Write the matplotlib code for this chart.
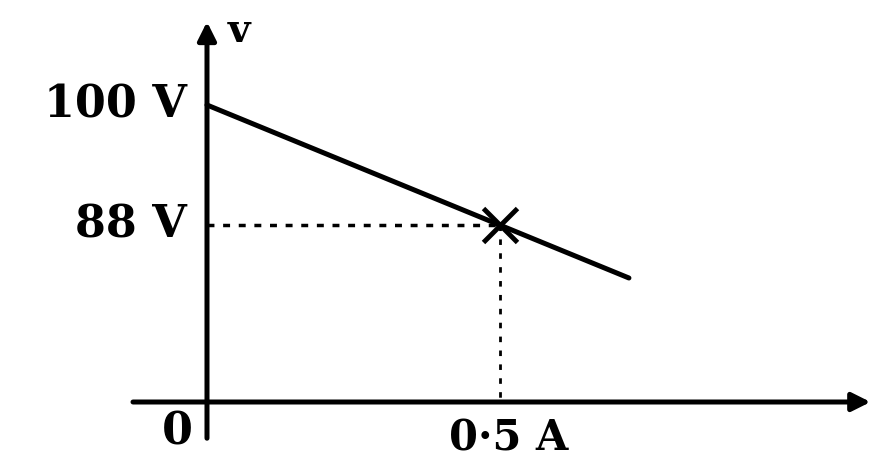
import matplotlib.pyplot as plt

# V-I characteristic (schematic)
current = [0.0, 0.72]          # A
voltage = [100.0, 82.7]        # V
point_i = 0.5
point_v = 88.0

y_ticks = [100.0, 88.0]
y_labels = ["100 V", "88 V"]
x_label_pt = "0·5 A"

fig = plt.figure(figsize=(8.77, 4.67), dpi=100)
ax = fig.add_axes([0, 0, 1, 1])
ax.set_xlim(-0.3532, 1.1433)
ax.set_ylim(63.8, 110.5)
ax.axis("off")

base_v = 70.3  # where the horizontal axis sits
font = dict(family="DejaVu Serif", weight="bold", color="black")

# axes with arrows
arrow = dict(arrowstyle="-|>,head_length=1.1,head_width=0.55", lw=3.6, color="black")
ax.annotate("", xy=(1.137, base_v), xytext=(-0.131, base_v), arrowprops=arrow)
ax.annotate("", xy=(0, 108.6), xytext=(0, 66.4), arrowprops=arrow)

# characteristic line
ax.plot(current, voltage, color="black", lw=3.6, solid_capstyle="round")

# dashed guides
ax.plot([0, point_i], [point_v, point_v], color="black", lw=2.5, linestyle=(0, (2, 2.5)))
ax.plot([point_i, point_i], [point_v, base_v], color="black", lw=2.0, linestyle=(0, (2, 3)))
ax.plot([point_i], [point_v], marker="x", color="black", markersize=24, mew=3.5)

# labels
for v, lab in zip(y_ticks, y_labels):
    ax.text(-0.035, v, lab, ha="right", va="center", fontsize=32, **font)
ax.text(-0.05, 67.3, "0", ha="center", va="center", fontsize=32, **font)
ax.text(point_i + 0.015, 66.6, x_label_pt, ha="center", va="center", fontsize=30, **font)
ax.text(0.055, 107.4, "v", ha="center", va="center", fontsize=28, **font)

fig.savefig("out.png", dpi=100)
